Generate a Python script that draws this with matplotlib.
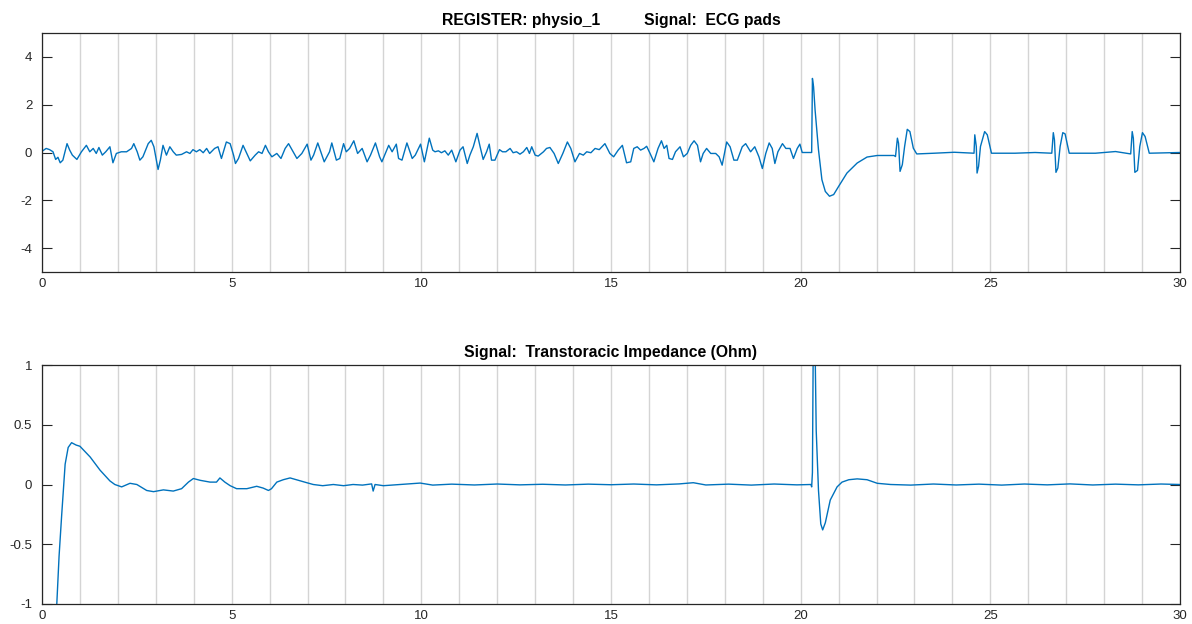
import matplotlib
matplotlib.use('Agg')
import matplotlib.pyplot as plt
from matplotlib.ticker import MultipleLocator

plt.rcParams['font.family'] = ['Liberation Sans', 'DejaVu Sans']
plt.rcParams['axes.unicode_minus'] = False

# ---------------- data ----------------
ecg_t = [0.0, 0.11, 0.2, 0.29, 0.36, 0.42, 0.48, 0.55, 0.66, 0.73, 0.8, 0.92, 1.04, 1.17, 1.26,
         1.35, 1.43, 1.5, 1.59, 1.68, 1.79, 1.87, 1.96, 2.09, 2.23, 2.36, 2.42, 2.51, 2.58, 2.66,
         2.8, 2.88, 2.95, 3.06, 3.12, 3.19, 3.28, 3.37, 3.46, 3.54, 3.68, 3.81, 3.9, 3.98, 4.07,
         4.16, 4.25, 4.34, 4.42, 4.55, 4.64, 4.73, 4.86, 4.96, 5.05, 5.1, 5.18, 5.3, 5.4, 5.49,
         5.62, 5.71, 5.8, 5.89, 5.97, 6.06, 6.19, 6.3, 6.41, 6.5, 6.62, 6.72, 6.85, 6.99, 7.09,
         7.16, 7.27, 7.38, 7.44, 7.58, 7.64, 7.76, 7.85, 7.95, 8.02, 8.11, 8.22, 8.32, 8.44, 8.57,
         8.66, 8.79, 8.9, 8.96, 9.05, 9.14, 9.23, 9.34, 9.4, 9.49, 9.62, 9.76, 9.84, 9.98, 10.08,
         10.21, 10.3, 10.36, 10.45, 10.53, 10.62, 10.71, 10.8, 10.91, 11.02, 11.1, 11.21, 11.28,
         11.37, 11.47, 11.55, 11.63, 11.72, 11.79, 11.85, 11.94, 12.06, 12.14, 12.23, 12.34, 12.42,
         12.51, 12.6, 12.69, 12.78, 12.85, 12.91, 13.0, 13.08, 13.22, 13.3, 13.39, 13.5, 13.61,
         13.73, 13.85, 13.94, 14.05, 14.17, 14.27, 14.36, 14.47, 14.58, 14.69, 14.84, 14.97,
         15.07, 15.19, 15.3, 15.41, 15.52, 15.6, 15.69, 15.78, 15.87, 15.94, 16.03, 16.13, 16.24,
         16.33, 16.4, 16.47, 16.53, 16.62, 16.7, 16.82, 16.91, 17.01, 17.1, 17.19, 17.28, 17.36,
         17.43, 17.52, 17.63, 17.76, 17.85, 17.93, 18.05, 18.14, 18.24, 18.33, 18.46, 18.55,
         18.68, 18.79, 18.9, 18.99, 19.08, 19.17, 19.25, 19.32, 19.4, 19.52, 19.61, 19.72, 19.81,
         19.91, 19.98, 20.04, 20.29,
         20.31, 20.34, 20.38, 20.47, 20.56, 20.65, 20.76, 20.87, 21.0, 21.22, 21.49, 21.75, 22.02,
         22.46, 22.5, 22.55, 22.58, 22.62, 22.68, 22.74, 22.81, 22.88, 22.97, 23.06, 23.52, 24.05,
         24.54, 24.57, 24.59, 24.63, 24.65, 24.69, 24.74, 24.85, 24.92, 25.03, 25.65, 26.18, 26.62,
         26.66, 26.69, 26.73, 26.78, 26.84, 26.91, 26.97, 27.08, 27.77, 28.3, 28.7, 28.74, 28.77,
         28.81, 28.88, 28.94, 29.01, 29.08, 29.19, 30.0]
ecg_v = [0.05, 0.17, 0.12, 0.03, -0.29, -0.2, -0.43, -0.32, 0.37, 0.1, -0.11, -0.29, 0.03, 0.3, 0.03,
         0.17, -0.04, 0.21, -0.11, 0.03, 0.24, -0.43, -0.04, 0.03, 0.03, 0.17, 0.37, 0.03, -0.32, -0.18,
         0.37, 0.51, 0.24, -0.71, -0.32, 0.3, -0.11, 0.24, 0.03, -0.11, -0.08, 0.03, -0.04, 0.12, 0.03,
         0.12, -0.01, 0.17, -0.04, 0.17, 0.24, -0.25, 0.44, 0.37, -0.11, -0.46, -0.25, 0.3, -0.04, -0.35,
         -0.11, 0.03, -0.04, 0.3, 0.03, -0.18, -0.04, -0.25, 0.17, 0.37, 0.03, -0.25, -0.04, 0.35, -0.32,
         -0.11, 0.4, -0.11, -0.39, 0.03, 0.4, -0.32, -0.25, 0.37, 0.03, 0.17, 0.49, -0.04, 0.17, -0.39,
         -0.11, 0.4, -0.18, -0.39, -0.04, 0.3, 0.03, 0.35, -0.25, -0.32, 0.4, -0.25, -0.11, 0.35, -0.39,
         0.6, 0.1, 0.03, 0.07, -0.01, 0.07, -0.11, 0.1, -0.39, 0.1, 0.24, -0.46, -0.11,
         0.24, 0.8, 0.24, -0.29, 0.03, 0.35, -0.32, -0.32, 0.12, 0.03, 0.03, 0.17, -0.01,
         0.03, -0.07, 0.03, 0.21, -0.04, 0.24, -0.11, -0.15, 0.03, 0.17, 0.21, -0.04, -0.46,
         -0.04, 0.44, 0.17, -0.39, -0.04, -0.11, 0.03, -0.01, 0.17, 0.12, 0.37, -0.04,
         -0.18, 0.1, 0.3, -0.43, -0.39, 0.17, 0.24, 0.1, 0.17, 0.26, -0.04, -0.39, 0.17,
         0.49, 0.17, 0.3, -0.25, -0.29, 0.03, 0.24, -0.18, -0.04, 0.3, 0.49, 0.3, -0.39,
         -0.04, 0.17, -0.04, -0.04, -0.18, -0.53, 0.44, 0.24, -0.32, -0.32, 0.24, 0.37,
         0.03, 0.24, -0.18, -0.67, -0.04, 0.4, 0.17, -0.46, 0.03, 0.37, 0.17, 0.17, -0.25,
         0.17, 0.35, 0.0, 0.0,
         3.1, 2.75, 1.78, 0.11, -1.14, -1.63, -1.83, -1.76, -1.42, -0.86, -0.44, -0.19, -0.125,
         -0.125, -0.17, 0.6, 0.39, -0.79, -0.51, 0.25, 0.97, 0.875, 0.18, -0.06, -0.03, 0.01,
         -0.03, -0.03, 0.74, 0.25, -0.86, -0.58, 0.25, 0.875, 0.74, -0.03, -0.03, 0.0, -0.03,
         0.83, 0.53, -0.83, -0.65, 0.25, 0.83, 0.78, -0.03, -0.03, 0.04, -0.06, 0.875, 0.6,
         -0.83, -0.75, 0.25, 0.83, 0.67, -0.03, 0.0]

imp_t = [0.0, 0.39, 0.45, 0.52, 0.61, 0.69, 0.78, 0.9, 1.0, 1.27, 1.53, 1.79, 1.92, 2.1, 2.32,
         2.5, 2.76, 2.94, 3.2, 3.46, 3.68, 3.86, 3.99, 4.17, 4.43, 4.6, 4.69, 4.82, 4.96, 5.13,
         5.4, 5.66, 5.83, 5.97, 6.05, 6.19, 6.36, 6.54, 6.76, 6.98, 7.15, 7.4, 7.68, 7.95, 8.2,
         8.45, 8.69, 8.73, 8.78, 9.0, 9.44, 9.97, 10.3, 10.8, 11.4, 12.0, 12.6, 13.2, 13.8, 14.4,
         15.0, 15.6, 16.2, 16.8, 17.17, 17.5, 18.1, 18.7, 19.3, 19.9, 20.27,
         20.29, 20.31, 20.34, 20.36, 20.41, 20.47, 20.53, 20.58, 20.65, 20.78, 20.96, 21.09, 21.27,
         21.49, 21.75, 22.02, 22.37, 22.9, 23.5, 24.1, 24.7, 25.3, 25.9, 26.5, 27.1, 27.7, 28.3,
         28.9, 29.5, 30.0]
imp_v = [-6.0, -1.0, -0.6, -0.25, 0.17, 0.31, 0.35, 0.33, 0.32, 0.23, 0.12, 0.03, 0.0, -0.02, 0.01,
         0.0, -0.05, -0.06, -0.045, -0.055, -0.035, 0.02, 0.05, 0.035, 0.02, 0.02, 0.055, 0.02, -0.01, -0.035,
         -0.035, -0.015, -0.03, -0.05, -0.035, 0.02, 0.04, 0.055, 0.035, 0.015, 0.0, -0.01, 0.0, -0.01, 0.0,
         -0.005, 0.005, -0.055, 0.0, -0.01, 0.0, 0.012, -0.005, 0.003, -0.004, 0.004, -0.003, 0.002, -0.004, 0.003,
         -0.002, 0.004, -0.003, 0.005, 0.015, -0.004, 0.003, -0.005, 0.004, -0.003, 0.0,
         -0.02, 0.1, 1.6, 1.6, 0.45, -0.05, -0.33, -0.38, -0.32, -0.13, -0.02, 0.02, 0.04,
         0.047, 0.04, 0.01, 0.0, -0.005, 0.004, -0.004, 0.003, -0.005, 0.004, -0.003, 0.005, -0.004, 0.003,
         -0.003, 0.004, 0.0]

x_ticks = [0, 5, 10, 15, 20, 25, 30]
ecg_yticks = [-4, -2, 0, 2, 4]
imp_yticks = [-1, -0.5, 0, 0.5, 1]
imp_ytick_labels = ['-1', '-0.5', '0', '0.5', '1']
title_top = 'REGISTER: physio_1          Signal:  ECG pads'
title_bottom = 'Signal:  Transtoracic Impedance (Ohm)'

# ---------------- figure ----------------
W, H = 1192, 624
fig = plt.figure(figsize=(W / 100, H / 100), dpi=100)
ax1 = fig.add_axes([42 / W, 1 - 272 / H, 1138 / W, 239 / H])
ax2 = fig.add_axes([42 / W, 1 - 604 / H, 1138 / W, 239 / H])

line_color = '#0072BD'
dark = '#262626'
grid_c = '#d4d4d4'


def style(ax, ylim, yticks, ylabels=None):
    ax.set_xlim(0, 30)
    ax.set_ylim(*ylim)
    ax.set_xticks(x_ticks)
    ax.xaxis.set_minor_locator(MultipleLocator(1))
    ax.set_yticks(yticks)
    if ylabels is not None:
        ax.set_yticklabels(ylabels)
    ax.grid(True, axis='x', which='both', color=grid_c, linewidth=1.0)
    ax.grid(False, axis='y')
    ax.set_axisbelow(True)
    ax.tick_params(axis='x', which='both', length=0, pad=4, labelsize=9.5, labelcolor=dark)
    ax.tick_params(axis='y', which='both', direction='in', length=7.5, width=0.8, color=dark,
                   left=True, right=True, labelleft=True, labelright=False, pad=7,
                   labelsize=9.5, labelcolor=dark)
    for s in ax.spines.values():
        s.set_color(dark)
        s.set_linewidth(0.9)


ax1.plot(ecg_t, ecg_v, color=line_color, linewidth=1.0)
style(ax1, (-5, 5), ecg_yticks)
ax1.set_title(title_top, fontsize=11.3, fontweight='bold', pad=6)

ax2.plot(imp_t, imp_v, color=line_color, linewidth=1.0)
style(ax2, (-1, 1), imp_yticks, imp_ytick_labels)
ax2.set_title(title_bottom, fontsize=11.3, fontweight='bold', pad=6)

fig.savefig('out.png', dpi=100)
